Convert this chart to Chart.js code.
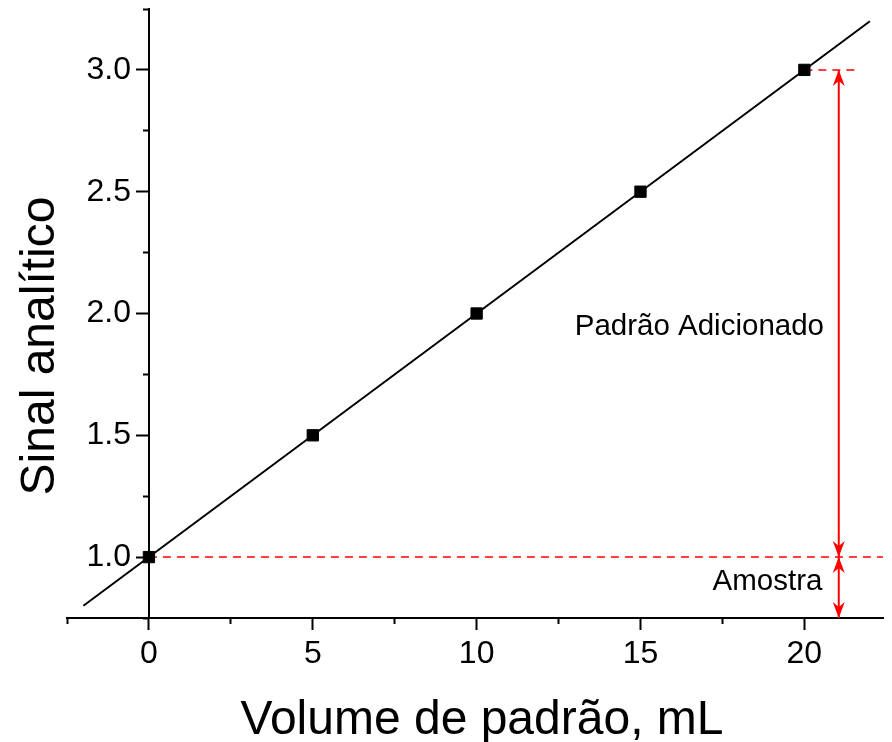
<!DOCTYPE html>
<html>
<head>
<meta charset="utf-8">
<script src="https://cdn.jsdelivr.net/npm/chart.js@4/dist/chart.umd.min.js"></script>
<style>
  html, body { margin: 0; padding: 0; background: #fff; overflow: hidden; }
  #wrap { position: relative; width: 892px; height: 742px; }
  canvas { display: block; }
</style>
</head>
<body>
<div id="wrap"><canvas id="chart"></canvas></div>
<script>
const FONT = "'Liberation Sans', Arial, sans-serif";

// standard additions: added volume (mL) and measured signal
const volumes = [0, 5, 10, 15, 20];
const signals = [1.0, 1.5, 2.0, 2.5, 3.0];

// fitted calibration line, extended past the measured range
const fitX = [-2, 22];
const fitY = [0.8, 3.2];

// signal of the sample alone and after the last addition
const sampleLevel = 1.0;
const sampleLevelX = [0, 22.4];
const topLevel = 3.0;
const topLevelX = [20, 21.7];

// double-headed arrows (from, to) drawn at arrowX
const arrowX = 21.05;
const arrowSpans = [[1.0, 3.0], [0.75, 1.0]];

const xMajorTicks = [0, 5, 10, 15, 20];
const xMinorTicks = [-2.5, 2.5, 7.5, 12.5, 17.5];
const yMajorTicks = [1.0, 1.5, 2.0, 2.5, 3.0];
const yMinorTicks = [0.75, 1.25, 1.75, 2.25, 2.75, 3.25];

const xTitle = "Volume de padrão, mL";
const yTitle = "Sinal analítico";
const spanLabels = ["Padrão Adicionado", "Amostra"];

function toTicks(values) {
  return (s) => { s.ticks = values.map((v) => ({ value: v })); };
}

// axes placed inside the plot should not take any room from it
function noRoom(s) {
  s.paddingLeft = 0;
  s.paddingRight = 0;
  s.paddingTop = 0;
  s.paddingBottom = 0;
  if (s.isHorizontal()) {
    s.height = 0;
  } else {
    s.width = 0;
  }
}

function arrowHead(ctx, x, tipY, dir) {
  // dir = -1 points up, 1 points down
  const len = 16, half = 6, notch = 11;
  ctx.beginPath();
  ctx.moveTo(x, tipY);
  ctx.lineTo(x - half, tipY - dir * len);
  ctx.lineTo(x, tipY - dir * notch);
  ctx.lineTo(x + half, tipY - dir * len);
  ctx.closePath();
  ctx.fill();
}

const annotations = {
  id: "annotations",
  afterDatasetsDraw(chart) {
    const { ctx, scales: { x, y } } = chart;
    ctx.save();
    ctx.fillStyle = "#ff0000";
    const ax = x.getPixelForValue(arrowX);
    arrowSpans.forEach(([lo, hi]) => {
      arrowHead(ctx, ax, y.getPixelForValue(hi), -1);
      arrowHead(ctx, ax, y.getPixelForValue(lo), 1);
    });

    ctx.fillStyle = "#000";
    ctx.font = "29.5px " + FONT;
    ctx.textAlign = "right";
    ctx.textBaseline = "middle";
    ctx.fillText(spanLabels[0], x.getPixelForValue(20.6), y.getPixelForValue(1.945));
    ctx.fillText(spanLabels[1], x.getPixelForValue(20.55), y.getPixelForValue(0.9));
    ctx.restore();
  },
  afterDraw(chart) {
    const { ctx, scales: { x, y } } = chart;
    ctx.save();
    ctx.fillStyle = "#000";

    // y tick labels, to the left of the axis crossing at x = 0
    ctx.font = "32px " + FONT;
    ctx.textAlign = "right";
    ctx.textBaseline = "middle";
    const yAxisPx = x.getPixelForValue(0);
    y.ticks.forEach((t) => {
      ctx.fillText(t.value.toFixed(1), yAxisPx - 18, y.getPixelForValue(t.value));
    });

    ctx.font = "48px " + FONT;
    ctx.textAlign = "center";
    ctx.textBaseline = "alphabetic";
    ctx.fillText(xTitle, 482, chart.height - 8);
    ctx.translate(54, 346);
    ctx.rotate(-Math.PI / 2);
    ctx.fillText(yTitle, 0, 0);
    ctx.restore();
  },
};

const axisGrid = (len) => ({
  drawOnChartArea: false,
  tickLength: len,
  tickWidth: 2,
  tickColor: "#000",
});

new Chart(document.getElementById("chart"), {
  type: "scatter",
  data: {
    datasets: [
      {
        label: "Medidas",
        data: volumes.map((v, i) => ({ x: v, y: signals[i] })),
        pointStyle: "rect",
        pointRadius: 8,
        backgroundColor: "#000",
        borderColor: "#000",
        borderWidth: 1,
        xAxisID: "x",
        yAxisID: "y",
      },
      {
        label: "Ajuste",
        data: fitX.map((v, i) => ({ x: v, y: fitY[i] })),
        showLine: true,
        pointRadius: 0,
        borderColor: "#000",
        borderWidth: 2,
        xAxisID: "x",
        yAxisID: "y",
      },
      {
        label: "Amostra",
        data: sampleLevelX.map((v) => ({ x: v, y: sampleLevel })),
        showLine: true,
        pointRadius: 0,
        borderColor: "#ff0000",
        borderWidth: 1.5,
        borderDash: [8, 6],
        xAxisID: "x",
        yAxisID: "y",
      },
      {
        label: "Topo",
        data: topLevelX.map((v) => ({ x: v, y: topLevel })),
        showLine: true,
        pointRadius: 0,
        borderColor: "#ff0000",
        borderWidth: 1.5,
        borderDash: [8, 6],
        xAxisID: "x",
        yAxisID: "y",
      },
      {
        label: "Setas",
        data: [
          { x: arrowX, y: arrowSpans[0][1] },
          { x: arrowX, y: arrowSpans[1][0] },
        ],
        showLine: true,
        pointRadius: 0,
        borderColor: "#ff0000",
        borderWidth: 2,
        xAxisID: "x",
        yAxisID: "y",
      },
    ],
  },
  options: {
    responsive: true,
    maintainAspectRatio: false,
    animation: false,
    layout: { padding: { left: 67, right: 0, top: 9, bottom: 0 } },
    plugins: {
      legend: { display: false },
      tooltip: { enabled: false },
    },
    scales: {
      x: {
        type: "linear",
        position: "bottom",
        min: -2.5,
        max: 22.4,
        afterBuildTicks: toTicks(xMajorTicks),
        afterFit: (s) => {
          s.height = 124;
          s.paddingLeft = 0;
          s.paddingRight = 0;
        },
        grid: axisGrid(12),
        border: { color: "#000", width: 2 },
        ticks: {
          autoSkip: false,
          maxRotation: 0,
          padding: 5,
          color: "#000",
          font: { size: 32, family: FONT },
          callback: (v) => String(v),
        },
      },
      xMinor: {
        type: "linear",
        position: { y: 0.75 },
        min: -2.5,
        max: 22.4,
        afterBuildTicks: toTicks(xMinorTicks),
        afterFit: noRoom,
        grid: axisGrid(6),
        border: { display: false },
        ticks: { display: false, autoSkip: false },
      },
      y: {
        type: "linear",
        position: { x: 0 },
        min: 0.75,
        max: 3.25,
        afterBuildTicks: toTicks(yMajorTicks),
        afterFit: noRoom,
        grid: axisGrid(12),
        border: { color: "#000", width: 2 },
        ticks: { display: false, autoSkip: false },
      },
      yMinor: {
        type: "linear",
        position: { x: 0 },
        min: 0.75,
        max: 3.25,
        afterBuildTicks: toTicks(yMinorTicks),
        afterFit: noRoom,
        grid: axisGrid(6),
        border: { display: false },
        ticks: { display: false, autoSkip: false },
      },
    },
  },
  plugins: [annotations],
});
</script>
</body>
</html>
